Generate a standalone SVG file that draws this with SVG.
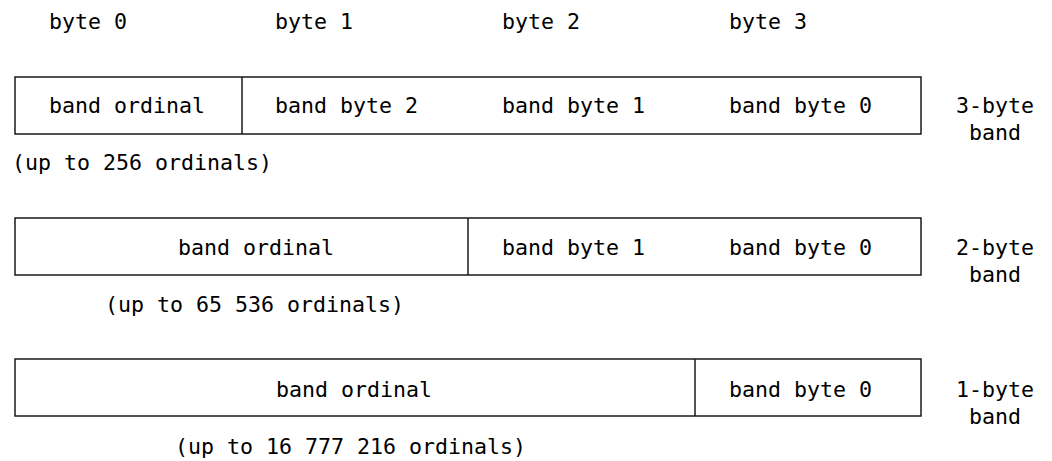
<svg xmlns="http://www.w3.org/2000/svg" width="1052" height="461" viewBox="0 0 1052 461">
<style>
text{font-family:"DejaVu Sans Mono","Liberation Mono",monospace;font-size:21.6px;fill:#000}
.box{fill:none;stroke:#1a1a1a;stroke-width:1.5}
.div{stroke:#1a1a1a;stroke-width:1.5}
</style>
<rect width="1052" height="461" fill="#fff"/>
<g id="header">
<text x="49" y="29">byte 0</text>
<text x="275" y="29">byte 1</text>
<text x="502" y="29">byte 2</text>
<text x="729" y="29">byte 3</text>
</g>
<g id="band3">
<rect class="box" x="15" y="77" width="906" height="57"/>
<line class="div" x1="242" y1="77" x2="242" y2="134"/>
<text x="49" y="113">band ordinal</text>
<text x="275" y="113">band byte 2</text>
<text x="502" y="113">band byte 1</text>
<text x="729" y="113">band byte 0</text>
<text x="956" y="113">3-byte</text>
<text x="969" y="140">band</text>
<text x="12" y="170">(up to 256 ordinals)</text>
</g>
<g id="band2">
<rect class="box" x="15" y="218" width="906" height="57"/>
<line class="div" x1="468" y1="218" x2="468" y2="275"/>
<text x="178" y="255">band ordinal</text>
<text x="502" y="255">band byte 1</text>
<text x="729" y="255">band byte 0</text>
<text x="956" y="255">2-byte</text>
<text x="969" y="282">band</text>
<text x="105" y="312">(up to 65 536 ordinals)</text>
</g>
<g id="band1">
<rect class="box" x="15" y="359" width="906" height="57"/>
<line class="div" x1="695" y1="359" x2="695" y2="416"/>
<text x="276" y="397">band ordinal</text>
<text x="729" y="397">band byte 0</text>
<text x="956" y="397">1-byte</text>
<text x="969" y="424">band</text>
<text x="175" y="454">(up to 16 777 216 ordinals)</text>
</g>
<g id="connectors"></g>
</svg>
